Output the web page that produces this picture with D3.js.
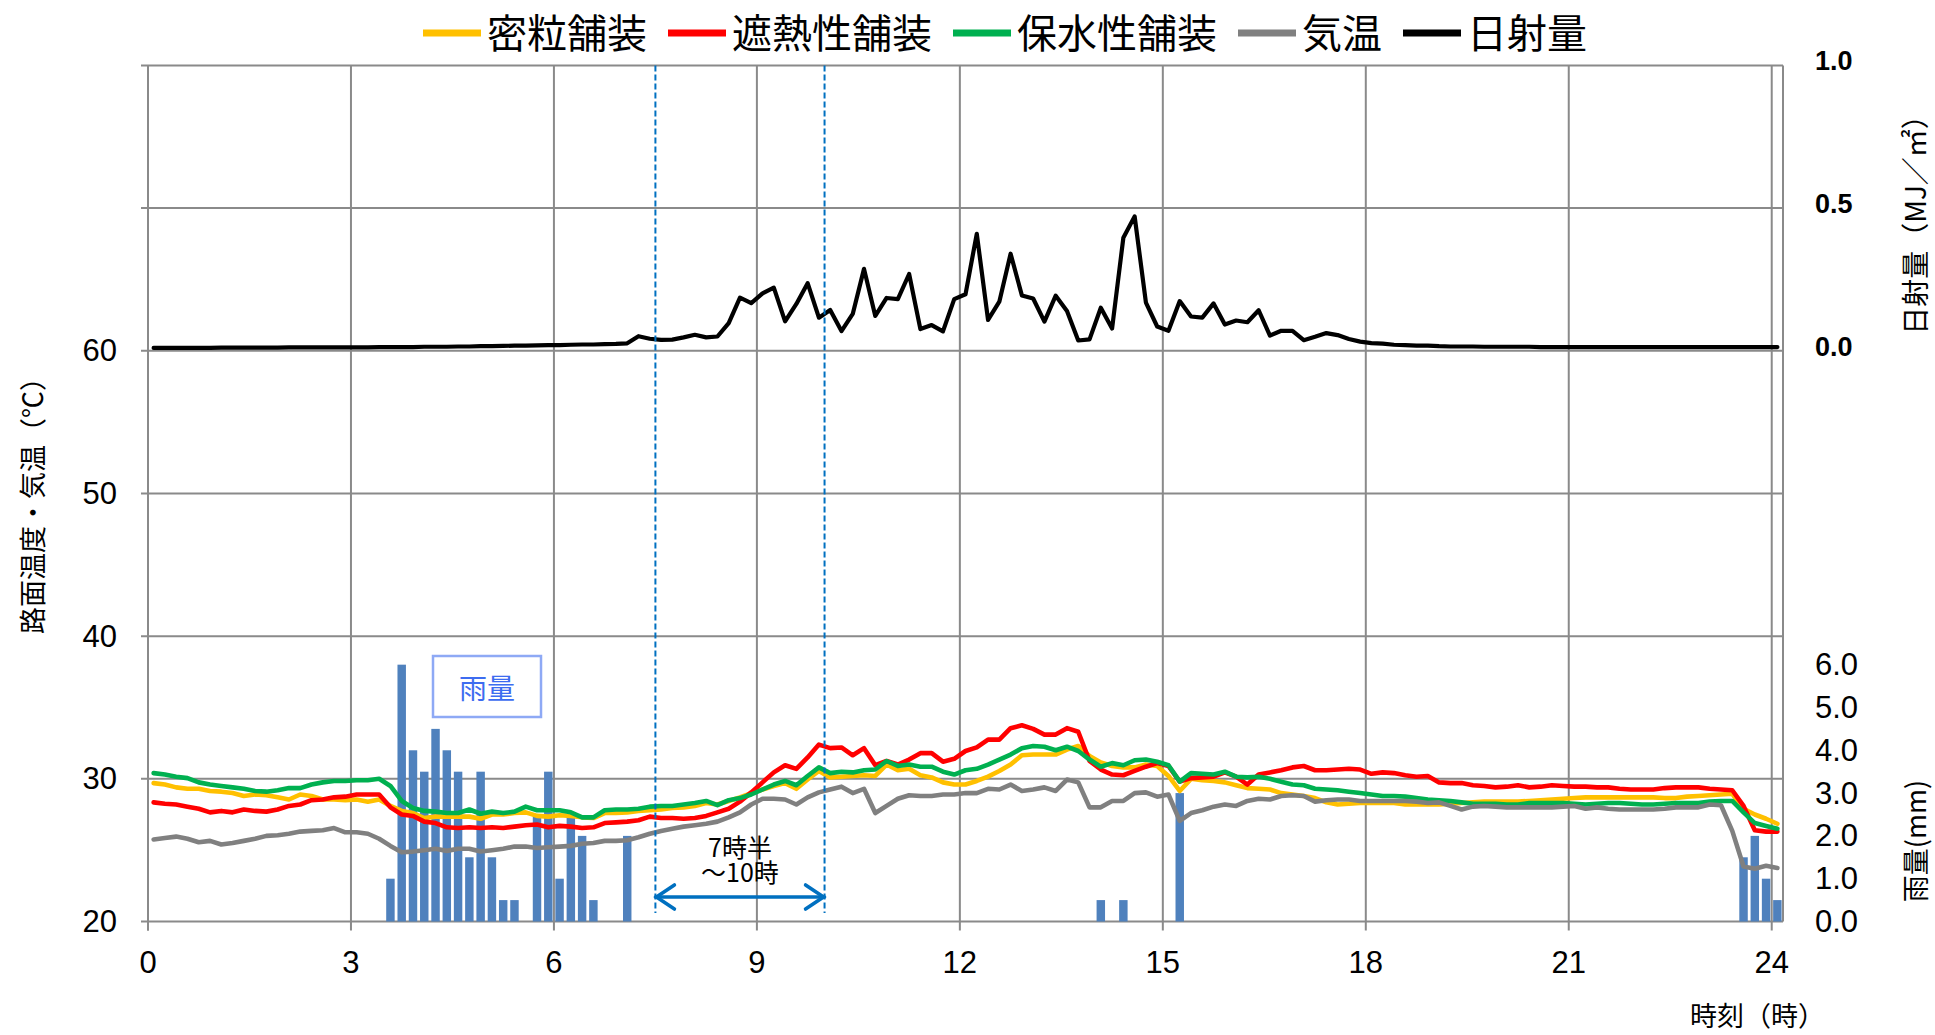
<!DOCTYPE html>
<html>
<head>
<meta charset="utf-8">
<script src="https://cdn.jsdelivr.net/npm/d3@7"></script>
<style>
  html, body { margin: 0; padding: 0; background: #ffffff; }
  svg { display: block; }
</style>
</head>
<body>
<svg id="chart" width="1935" height="1035"></svg>
<script>
// ---- data: 10-minute readings, 0:00 .. 24:00 (one row per hour) ----
const seriesNames  = ["密粒舗装", "遮熱性舗装", "保水性舗装", "気温", "日射量"];
const seriesColors = ["#FFC000", "#FF0000", "#00B050", "#808080", "#000000"];

const hourTicks  = [0, 3, 6, 9, 12, 15, 18, 21, 24];
const tempTicks  = [20, 30, 40, 50, 60];
const solarTicks = [0.0, 0.5, 1.0];
const rainTicks  = [0, 1, 2, 3, 4, 5, 6];

const times = d3.range(145).map(i => `${Math.floor(i / 6)}:${String((i % 6) * 10).padStart(2, "0")}`);

// 密粒舗装 (°C)
const densePave = [
  29.7,29.6,29.4,29.3,29.3,29.15,   29.1,29.0,28.8,28.9,28.85,28.7,
  28.55,28.9,28.8,28.55,28.55,28.5, 28.55,28.4,28.55,28.1,27.75,27.6,
  27.25,27.35,27.35,27.35,27.35,27.2, 27.5,27.5,27.6,27.65,27.4,27.35,
  27.45,27.4,27.3,27.25,27.6,27.6, 27.65,27.75,27.8,27.85,27.95,28.0,
  28.1,28.3,28.2,28.45,28.7,29.0,  29.25,29.5,29.7,29.3,29.95,30.55,
  30.1,30.15,30.2,30.25,30.2,31.0, 30.6,30.7,30.25,30.1,29.75,29.6,
  29.6,29.85,30.15,30.55,31.0,31.65, 31.7,31.7,31.7,32.05,32.3,31.6,
  31.15,30.9,30.8,30.8,31.0,30.9,  30.2,29.15,30.0,29.9,29.85,29.75,
  29.55,29.35,29.3,29.25,29.0,28.9, 28.8,28.65,28.35,28.2,28.25,28.3,
  28.3,28.3,28.3,28.2,28.2,28.2,   28.2,28.25,28.3,28.35,28.4,28.4,
  28.4,28.4,28.45,28.5,28.55,28.6, 28.65,28.7,28.7,28.7,28.7,28.7,
  28.7,28.7,28.65,28.65,28.75,28.8, 28.85,28.9,28.95,27.9,27.5,27.2,
  26.85
];

// 遮熱性舗装 (°C)
const heatShieldPave = [
  28.35,28.25,28.2,28.05,27.9,27.65, 27.75,27.65,27.85,27.75,27.7,27.85,
  28.1,28.2,28.5,28.55,28.7,28.75,  28.9,28.9,28.9,28.0,27.5,27.4,
  27.0,26.9,26.6,26.55,26.6,26.55,  26.6,26.55,26.65,26.75,26.8,26.6,
  26.7,26.65,26.55,26.6,26.9,26.95, 27.0,27.1,27.35,27.25,27.25,27.2,
  27.25,27.4,27.65,27.9,28.4,29.05, 29.75,30.45,30.95,30.7,31.5,32.4,
  32.15,32.2,31.65,32.15,30.95,31.25, 31.0,31.35,31.8,31.8,31.2,31.4,
  31.95,32.2,32.75,32.75,33.55,33.75, 33.5,33.1,33.1,33.55,33.3,31.25,
  30.65,30.3,30.25,30.55,30.85,31.1, 30.9,29.8,30.05,30.1,30.15,30.45,
  30.15,29.6,30.3,30.45,30.6,30.8,  30.9,30.6,30.6,30.65,30.7,30.65,
  30.35,30.45,30.4,30.25,30.15,30.2, 29.75,29.7,29.7,29.55,29.5,29.4,
  29.45,29.55,29.4,29.45,29.55,29.5, 29.45,29.45,29.4,29.4,29.3,29.25,
  29.25,29.25,29.35,29.4,29.4,29.4, 29.3,29.25,29.2,28.1,26.4,26.3,
  26.3
];

// 保水性舗装 (°C)
const waterRetainPave = [
  30.4,30.3,30.15,30.05,29.75,29.6, 29.5,29.4,29.3,29.15,29.1,29.2,
  29.35,29.35,29.6,29.75,29.85,29.85, 29.9,29.9,30.0,29.5,28.45,27.95,
  27.75,27.7,27.6,27.6,27.85,27.55, 27.7,27.6,27.7,28.05,27.8,27.8,
  27.8,27.65,27.3,27.3,27.8,27.85,  27.85,27.9,28.05,28.1,28.1,28.2,
  28.3,28.45,28.15,28.5,28.65,28.9, 29.25,29.6,29.85,29.55,30.2,30.8,
  30.4,30.5,30.45,30.6,30.65,31.25, 30.9,31.0,30.85,30.85,30.5,30.3,
  30.6,30.7,31.0,31.35,31.7,32.15,  32.3,32.25,32.0,32.25,31.95,31.35,
  30.85,31.1,30.95,31.3,31.35,31.2, 30.95,29.8,30.4,30.35,30.3,30.5,
  30.15,30.1,30.15,30.0,29.8,29.6,  29.55,29.3,29.25,29.2,29.1,29.0,
  28.9,28.8,28.8,28.75,28.65,28.55, 28.5,28.45,28.35,28.25,28.25,28.25,
  28.2,28.2,28.3,28.3,28.3,28.3,    28.25,28.2,28.25,28.3,28.3,28.25,
  28.2,28.2,28.25,28.3,28.3,28.3,   28.4,28.45,28.45,27.65,26.9,26.7,
  26.5
];

// 気温 (°C)
const airTemp = [
  25.75,25.85,25.95,25.8,25.55,25.65, 25.4,25.5,25.65,25.8,26.0,26.05,
  26.15,26.3,26.35,26.4,26.55,26.25, 26.25,26.15,25.8,25.3,24.85,24.9,
  25.0,25.1,24.95,25.1,25.1,24.9,   25.0,25.1,25.25,25.25,25.15,25.2,
  25.25,25.3,25.45,25.5,25.65,25.65, 25.7,25.9,26.15,26.35,26.5,26.65,
  26.75,26.85,27.0,27.3,27.65,28.2, 28.6,28.6,28.55,28.2,28.7,29.05,
  29.25,29.45,29.0,29.3,27.6,28.1,  28.6,28.85,28.8,28.8,28.9,28.9,
  29.0,29.0,29.3,29.25,29.6,29.15,  29.25,29.4,29.15,29.95,29.75,28.0,
  28.0,28.45,28.45,29.0,29.05,28.75, 28.9,27.05,27.6,27.8,28.05,28.2,
  28.1,28.45,28.6,28.55,28.8,28.85, 28.8,28.4,28.5,28.55,28.55,28.45,
  28.45,28.45,28.45,28.45,28.4,28.3, 28.35,28.1,27.85,28.05,28.1,28.05,
  28.0,28.0,28.0,28.0,28.0,28.05,   28.1,27.9,28.0,27.9,27.85,27.85,
  27.85,27.85,27.9,28.0,28.0,28.0,  28.2,28.15,26.35,23.85,23.7,23.9,
  23.75
];

// 日射量 (MJ/m²)
const solar = [
  0.010,0.010,0.010,0.010,0.010,0.010, 0.011,0.011,0.011,0.011,0.011,0.011,
  0.012,0.012,0.012,0.012,0.012,0.012, 0.012,0.012,0.013,0.013,0.013,0.013,
  0.014,0.014,0.014,0.015,0.015,0.016, 0.016,0.017,0.018,0.018,0.019,0.020,
  0.020,0.021,0.022,0.022,0.023,0.024, 0.026,0.051,0.042,0.038,0.039,0.047,
  0.056,0.047,0.050,0.097,0.186,0.167, 0.201,0.221,0.103,0.164,0.237,0.116,
  0.143,0.069,0.129,0.287,0.122,0.185, 0.181,0.269,0.076,0.090,0.068,0.181,
  0.198,0.410,0.108,0.172,0.340,0.194, 0.183,0.102,0.193,0.139,0.036,0.040,
  0.151,0.078,0.396,0.471,0.169,0.085, 0.070,0.174,0.120,0.116,0.166,0.092,
  0.106,0.100,0.142,0.053,0.070,0.070, 0.037,0.049,0.062,0.055,0.041,0.032,
  0.027,0.025,0.021,0.020,0.018,0.018, 0.016,0.015,0.015,0.015,0.014,0.014,
  0.014,0.014,0.014,0.013,0.013,0.013, 0.013,0.013,0.013,0.013,0.013,0.013,
  0.013,0.013,0.013,0.013,0.013,0.013, 0.013,0.013,0.013,0.013,0.013,0.013,
  0.013
];

// 雨量 (mm per 10 min)
const rain = [
  0,0,0,0,0,0,  0,0,0,0,0,0,  0,0,0,0,0,0,  0,0,0,1.0,6.0,4.0,
  3.5,4.5,4.0,3.5,1.5,3.5,  1.5,0.5,0.5,0,2.5,3.5,  1.0,2.5,2.0,0.5,0,0,
  2.0,0,0,0,0,0,  0,0,0,0,0,0,  0,0,0,0,0,0,  0,0,0,0,0,0,
  0,0,0,0,0,0,  0,0,0,0,0,0,  0,0,0,0,0,0,  0.5,0,0.5,0,0,0,
  0,3.0,0,0,0,0,  0,0,0,0,0,0,  0,0,0,0,0,0,  0,0,0,0,0,0,
  0,0,0,0,0,0,  0,0,0,0,0,0,  0,0,0,0,0,0,  0,0,0,0,0,0,
  0,0,0,1.5,2.0,1.0,
  0.5
];

const markedSpan = [7.5, 10];   // hours bracketed by the dashed guides

// ---- layout ----
const svg = d3.select("#chart");
const L = 148, R = 1783, T = 65.4, B = 921.5;
const gridColor = "#8a8a8a";
const numFont = "'Liberation Sans', Arial, sans-serif";
const jpFont = "'Noto Sans CJK JP', sans-serif";

const x = d3.scaleBand().domain(times).range([L, R]).padding(0);
const xc = i => x(times[i]) + x.bandwidth() / 2;
const xHour = d3.scaleLinear().domain([0, times.length / 6]).range([L, R]);
const yT = d3.scaleLinear().domain([20, 80]).range([B, T]);
const ySolar = d3.scaleLinear().domain([-2, 1]).range([B, T]);
const yRain = d3.scaleLinear().domain([0, 20]).range([B, T]);

// ---- grid ----
const grid = svg.append("g").attr("stroke", gridColor).attr("stroke-width", 2);
d3.range(20, 81, 10).forEach(v => {
  grid.append("line").attr("x1", L - 7).attr("x2", R).attr("y1", yT(v)).attr("y2", yT(v));
});
hourTicks.forEach(h => {
  grid.append("line").attr("x1", xHour(h)).attr("x2", xHour(h)).attr("y1", T).attr("y2", B + 9);
});
grid.append("line").attr("x1", L).attr("x2", L).attr("y1", T).attr("y2", B + 9);
grid.append("line").attr("x1", R).attr("x2", R).attr("y1", T).attr("y2", B);

// ---- rain bars ----
const barW = x.bandwidth() * 0.75;
svg.append("g").selectAll("rect")
  .data(rain.map((v, i) => ({ v, i })).filter(d => d.v > 0))
  .join("rect")
  .attr("x", d => xc(d.i) - barW / 2)
  .attr("width", barW)
  .attr("y", d => yRain(d.v))
  .attr("height", d => yRain(0) - yRain(d.v))
  .attr("fill", "#4F81BD");

// ---- lines ----
const tempLine = d3.line().x((d, i) => xc(i)).y(d => yT(d));
const solarLine = d3.line().x((d, i) => xc(i)).y(d => ySolar(d));
const lineData = [densePave, heatShieldPave, waterRetainPave, airTemp];
const lines = svg.append("g").attr("fill", "none")
  .attr("stroke-linejoin", "round").attr("stroke-linecap", "round");
lineData.forEach((s, k) => {
  lines.append("path").attr("d", tempLine(s))
    .attr("stroke", seriesColors[k]).attr("stroke-width", 4.6);
});
lines.append("path").attr("d", solarLine(solar))
  .attr("stroke", seriesColors[4]).attr("stroke-width", 4.2);

// ---- dashed guides, arrow and note ----
const blue = "#0070C0";
markedSpan.forEach(h => {
  svg.append("line").attr("x1", xHour(h)).attr("x2", xHour(h))
    .attr("y1", T).attr("y2", 913)
    .attr("stroke", blue).attr("stroke-width", 2).attr("stroke-dasharray", "6,3");
});
const ax1 = xHour(markedSpan[0]), ax2 = xHour(markedSpan[1]), ay = 897;
const arrow = svg.append("g").attr("stroke", blue).attr("stroke-width", 3.6)
  .attr("fill", "none").attr("stroke-linecap", "round").attr("stroke-linejoin", "round");
arrow.append("line").attr("x1", ax1).attr("x2", ax2).attr("y1", ay).attr("y2", ay);
arrow.append("polyline").attr("points", `${ax1 + 19},${ay - 12} ${ax1 + 1},${ay} ${ax1 + 19},${ay + 12}`);
arrow.append("polyline").attr("points", `${ax2 - 19},${ay - 12} ${ax2 - 1},${ay} ${ax2 - 19},${ay + 12}`);

const midX = (ax1 + ax2) / 2;
const note = svg.append("text").attr("text-anchor", "middle")
  .attr("font-family", jpFont).attr("font-size", 25);
note.append("tspan").attr("x", midX).attr("y", 857).text("7時半");
note.append("tspan").attr("x", midX).attr("dy", 25).text("～10時");

// rain label box
svg.append("rect").attr("x", 433).attr("y", 656).attr("width", 108).attr("height", 61)
  .attr("fill", "#ffffff").attr("stroke", "#8EA9F5").attr("stroke-width", 2.5);
svg.append("text").attr("x", 487).attr("y", 687).attr("text-anchor", "middle")
  .attr("dominant-baseline", "central").attr("font-family", jpFont).attr("font-size", 28)
  .attr("fill", "#3D6CF0").text("雨量");

// ---- axis labels ----
const label = svg.append("g").attr("fill", "#000");
tempTicks.forEach(v => {
  label.append("text").attr("x", 117).attr("y", yT(v)).attr("text-anchor", "end")
    .attr("dominant-baseline", "central").attr("font-family", numFont).attr("font-size", 31)
    .text(v);
});
hourTicks.forEach(h => {
  label.append("text").attr("x", xHour(h)).attr("y", 962).attr("text-anchor", "middle")
    .attr("dominant-baseline", "central").attr("font-family", numFont).attr("font-size", 31)
    .text(h);
});
solarTicks.forEach(v => {
  label.append("text").attr("x", 1815).attr("y", ySolar(v) - 4).attr("text-anchor", "start")
    .attr("dominant-baseline", "central").attr("font-family", numFont).attr("font-size", 27)
    .attr("font-weight", "bold").text(d3.format(".1f")(v));
});
rainTicks.forEach(v => {
  label.append("text").attr("x", 1815).attr("y", yRain(v)).attr("text-anchor", "start")
    .attr("dominant-baseline", "central").attr("font-family", numFont).attr("font-size", 31)
    .text(d3.format(".1f")(v));
});

// axis titles
svg.append("text").attr("transform", "translate(31,499) rotate(-90)")
  .attr("text-anchor", "middle").attr("dominant-baseline", "central")
  .attr("font-family", jpFont).attr("font-size", 27).text("路面温度・気温（℃）");
svg.append("text").attr("transform", "translate(1914,218) rotate(-90)")
  .attr("text-anchor", "middle").attr("dominant-baseline", "central")
  .attr("font-family", jpFont).attr("font-size", 28).text("日射量（MJ／㎡）");
svg.append("text").attr("transform", "translate(1914,841) rotate(-90)")
  .attr("text-anchor", "middle").attr("dominant-baseline", "central")
  .attr("font-family", jpFont).attr("font-size", 27).text("雨量(mm)");
svg.append("text").attr("x", 1690).attr("y", 1014)
  .attr("dominant-baseline", "central").attr("font-family", jpFont).attr("font-size", 27)
  .text("時刻（時）");

// ---- legend ----
const legend = svg.append("g");
let lx = 423;
seriesNames.forEach((name, k) => {
  legend.append("line").attr("x1", lx).attr("x2", lx + 58).attr("y1", 33).attr("y2", 33)
    .attr("stroke", seriesColors[k]).attr("stroke-width", 7);
  const t = legend.append("text").attr("x", lx + 64).attr("y", 31)
    .attr("dominant-baseline", "central").attr("font-family", jpFont).attr("font-size", 40)
    .text(name);
  lx += 64 + t.node().getComputedTextLength() + 21;
});
</script>
</body>
</html>
